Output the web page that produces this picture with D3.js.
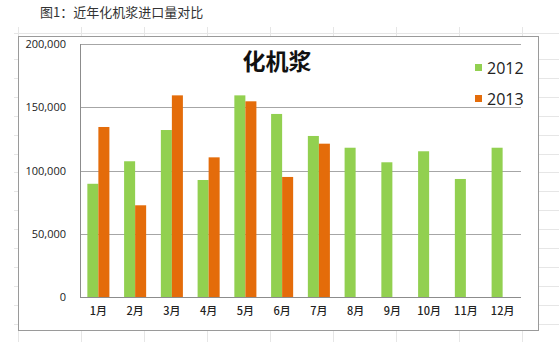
<!DOCTYPE html>
<html>
<head>
<meta charset="utf-8">
<script src="https://cdn.jsdelivr.net/npm/d3@7"></script>
<style>
  html, body { margin: 0; padding: 0; background: #fff; }
  svg { display: block; }
</style>
</head>
<body>
<svg id="chart" width="559" height="342"></svg>
<script>
// Monthly chemi-mechanical pulp imports, 2012 vs 2013
const months = ["1月", "2月", "3月", "4月", "5月", "6月", "7月", "8月", "9月", "10月", "11月", "12月"];
const series = ["2012", "2013"];
const values2012 = [89500, 107300, 132000, 92500, 159400, 144700, 127300, 118000, 106500, 115200, 93300, 118000];
const values2013 = [134400, 72500, 159400, 110400, 154700, 94900, 121200, null, null, null, null, null];
const yTicks = [0, 50000, 100000, 150000, 200000];
const chartTitle = "化机浆";
const captionText = "图1：近年化机浆进口量对比";

const colors = { "2012": "#92D050", "2013": "#E46C0A" };
const cjk = "'Noto Sans CJK SC', 'Noto Sans', sans-serif";
const latin = "'Open Sans', 'Liberation Sans', sans-serif";

const svg = d3.select("#chart");
const W = 559, H = 342;

// Spreadsheet cell grid behind the chart object
const sheet = svg.append("g").attr("stroke", "#e6e6e6").attr("stroke-width", 1);
d3.range(18, W, 63).forEach(x => {
  sheet.append("line").attr("x1", x + 0.5).attr("x2", x + 0.5).attr("y1", 27).attr("y2", H);
});
sheet.append("line").attr("x1", 14).attr("x2", W).attr("y1", 33.5).attr("y2", 33.5);
d3.range(59, H, 18.9).forEach(y => {
  const yy = Math.round(y) + 0.5;
  sheet.append("line").attr("x1", 14).attr("x2", W).attr("y1", yy).attr("y2", yy);
});

// Caption above the sheet
svg.append("text")
  .attr("x", 40).attr("y", 17)
  .attr("font-family", cjk).attr("font-size", 13).attr("fill", "#333")
  .text(captionText);

// Chart object frame
svg.append("rect")
  .attr("x", 18.5).attr("y", 36.5).attr("width", 520).attr("height", 294)
  .attr("fill", "#fff").attr("stroke", "#9a9a9a");

const plot = { left: 80, right: 521, top: 44, bottom: 297 };

const x0 = d3.scaleBand().domain(months).range([plot.left, plot.right]).paddingInner(0.4).paddingOuter(0.2);
const x1 = d3.scaleBand().domain(series).range([0, x0.bandwidth()]);
const y = d3.scaleLinear().domain([0, 200000]).range([plot.bottom, plot.top]);

// Horizontal gridlines
svg.append("g").selectAll("line").data(yTicks.filter(d => d > 0)).join("line")
  .attr("x1", plot.left).attr("x2", plot.right)
  .attr("y1", d => Math.round(y(d)) + 0.5).attr("y2", d => Math.round(y(d)) + 0.5)
  .attr("stroke", "#a6a6a6");

// Y axis labels
const yAxis = d3.axisLeft(y).tickValues(yTicks).tickSize(0).tickPadding(14).tickFormat(d3.format(","));
const gy = svg.append("g").attr("transform", `translate(${plot.left},0)`).call(yAxis);
gy.select(".domain").remove();
gy.selectAll("text").attr("font-family", latin).attr("font-size", 11).attr("fill", "#222");

// Bars
const rows = months.map((m, i) => ({ month: m, "2012": values2012[i], "2013": values2013[i] }));
svg.append("g").selectAll("g").data(rows).join("g")
  .attr("transform", d => `translate(${x0(d.month)},0)`)
  .selectAll("rect")
  .data(d => series.filter(s => d[s] != null).map(s => ({ key: s, value: d[s] })))
  .join("rect")
  .attr("x", d => x1(d.key))
  .attr("width", x1.bandwidth())
  .attr("y", d => y(d.value))
  .attr("height", d => y(0) - y(d.value))
  .attr("fill", d => colors[d.key]);

// Axis lines
svg.append("line").attr("x1", plot.left + 0.5).attr("x2", plot.left + 0.5)
  .attr("y1", plot.top).attr("y2", plot.bottom).attr("stroke", "#8c8c8c");
svg.append("line").attr("x1", plot.left).attr("x2", plot.right)
  .attr("y1", plot.bottom + 0.5).attr("y2", plot.bottom + 0.5).attr("stroke", "#8c8c8c");

// X axis labels
const xAxis = d3.axisBottom(x0).tickSize(0).tickPadding(10);
const gx = svg.append("g").attr("transform", `translate(0,${plot.bottom})`).call(xAxis);
gx.select(".domain").remove();
gx.selectAll("text").attr("font-family", cjk).attr("font-size", 11).attr("font-weight", 500).attr("fill", "#222");

// Chart title
svg.append("text")
  .attr("x", 277).attr("y", 70).attr("text-anchor", "middle")
  .attr("font-family", cjk).attr("font-weight", "bold").attr("font-size", 23).attr("fill", "#111")
  .text(chartTitle);

// Legend
const legend = svg.append("g").selectAll("g").data(series).join("g")
  .attr("transform", (d, i) => `translate(475,${64 + i * 31})`);
legend.append("rect").attr("width", 7).attr("height", 7).attr("fill", d => colors[d]);
legend.append("text").attr("x", 12).attr("y", 4).attr("dy", "0.35em")
  .attr("font-family", latin).attr("font-size", 16).attr("fill", "#222")
  .text(d => d);
</script>
</body>
</html>
